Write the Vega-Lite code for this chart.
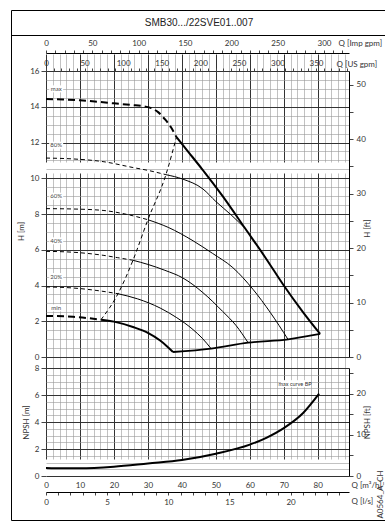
{
  "$schema": "https://vega.github.io/schema/vega-lite/v6.json",
  "padding": {"left": 8, "top": 7, "right": 2, "bottom": 4},
  "width": 375,
  "height": 510,
  "config": {
    "view": {"stroke": "black", "strokeWidth": 1},
    "axis": {"labelFont": "Lato", "labelFontSize": 8, "labelColor": "#333", "titleFont": "Lato", "titleFontSize": 8, "titleFontWeight": "normal", "titleColor": "#333", "domainColor": "black", "tickColor": "#444", "labelFlush": false, "labelOverlap": false, "labelBound": false},
    "text": {"font": "Lato"}
  },
  "datasets": {
    "hq": [
      {"c": "max", "part": "dashed", "q": 0, "h": 14.43}, {"c": "max", "part": "dashed", "q": 5, "h": 14.41}, {"c": "max", "part": "dashed", "q": 10, "h": 14.36}, {"c": "max", "part": "dashed", "q": 15, "h": 14.28}, {"c": "max", "part": "dashed", "q": 20, "h": 14.19}, {"c": "max", "part": "dashed", "q": 25, "h": 14.1}, {"c": "max", "part": "dashed", "q": 29, "h": 14.02}, {"c": "max", "part": "dashed", "q": 31, "h": 13.92}, {"c": "max", "part": "dashed", "q": 33, "h": 13.7}, {"c": "max", "part": "dashed", "q": 35, "h": 13.3}, {"c": "max", "part": "dashed", "q": 36.8, "h": 12.85}, {"c": "max", "part": "dashed", "q": 38.4, "h": 12.3},
      {"c": "max", "part": "solid", "q": 38.4, "h": 12.3}, {"c": "max", "part": "solid", "q": 42, "h": 11.45}, {"c": "max", "part": "solid", "q": 46, "h": 10.5}, {"c": "max", "part": "solid", "q": 52, "h": 9.0}, {"c": "max", "part": "solid", "q": 58.6, "h": 7.2}, {"c": "max", "part": "solid", "q": 64.8, "h": 5.5}, {"c": "max", "part": "solid", "q": 70, "h": 4.0}, {"c": "max", "part": "solid", "q": 75.7, "h": 2.5}, {"c": "max", "part": "solid", "q": 80.7, "h": 1.29},
      {"c": "80%", "part": "dashed", "q": 0, "h": 11.13}, {"c": "80%", "part": "dashed", "q": 8, "h": 11.08}, {"c": "80%", "part": "dashed", "q": 16.8, "h": 10.93}, {"c": "80%", "part": "dashed", "q": 25.6, "h": 10.6}, {"c": "80%", "part": "dashed", "q": 30.5, "h": 10.42}, {"c": "80%", "part": "dashed", "q": 35.3, "h": 10.2},
      {"c": "80%", "part": "solid", "q": 35.3, "h": 10.2}, {"c": "80%", "part": "solid", "q": 40.3, "h": 9.95}, {"c": "80%", "part": "solid", "q": 46.2, "h": 9.4}, {"c": "80%", "part": "solid", "q": 50, "h": 8.7}, {"c": "80%", "part": "solid", "q": 54.5, "h": 7.95}, {"c": "80%", "part": "solid", "q": 58.6, "h": 7.2},
      {"c": "60%", "part": "dashed", "q": 0, "h": 8.3}, {"c": "60%", "part": "dashed", "q": 8, "h": 8.28}, {"c": "60%", "part": "dashed", "q": 16.8, "h": 8.2}, {"c": "60%", "part": "dashed", "q": 24, "h": 7.97}, {"c": "60%", "part": "dashed", "q": 30, "h": 7.68},
      {"c": "60%", "part": "solid", "q": 30, "h": 7.68}, {"c": "60%", "part": "solid", "q": 36, "h": 7.25}, {"c": "60%", "part": "solid", "q": 43.3, "h": 6.5}, {"c": "60%", "part": "solid", "q": 49, "h": 5.8}, {"c": "60%", "part": "solid", "q": 55, "h": 5.0}, {"c": "60%", "part": "solid", "q": 61, "h": 3.77}, {"c": "60%", "part": "solid", "q": 66, "h": 2.5}, {"c": "60%", "part": "solid", "q": 71.3, "h": 0.97},
      {"c": "40%", "part": "dashed", "q": 0, "h": 5.91}, {"c": "40%", "part": "dashed", "q": 8, "h": 5.86}, {"c": "40%", "part": "dashed", "q": 16.8, "h": 5.69}, {"c": "40%", "part": "dashed", "q": 21, "h": 5.56}, {"c": "40%", "part": "dashed", "q": 25.6, "h": 5.41},
      {"c": "40%", "part": "solid", "q": 25.6, "h": 5.41}, {"c": "40%", "part": "solid", "q": 30, "h": 5.18}, {"c": "40%", "part": "solid", "q": 35, "h": 4.85}, {"c": "40%", "part": "solid", "q": 40.3, "h": 4.42}, {"c": "40%", "part": "solid", "q": 46.2, "h": 3.6}, {"c": "40%", "part": "solid", "q": 52, "h": 2.55}, {"c": "40%", "part": "solid", "q": 56, "h": 1.75}, {"c": "40%", "part": "solid", "q": 59.5, "h": 0.8},
      {"c": "20%", "part": "dashed", "q": 0, "h": 3.92}, {"c": "20%", "part": "dashed", "q": 8, "h": 3.86}, {"c": "20%", "part": "dashed", "q": 15, "h": 3.72}, {"c": "20%", "part": "dashed", "q": 21.2, "h": 3.54},
      {"c": "20%", "part": "solid", "q": 21.2, "h": 3.54}, {"c": "20%", "part": "solid", "q": 27, "h": 3.25}, {"c": "20%", "part": "solid", "q": 33.6, "h": 2.74}, {"c": "20%", "part": "solid", "q": 38.5, "h": 2.2}, {"c": "20%", "part": "solid", "q": 43.3, "h": 1.53}, {"c": "20%", "part": "solid", "q": 46, "h": 1.05}, {"c": "20%", "part": "solid", "q": 48.6, "h": 0.47},
      {"c": "min", "part": "dashed", "q": 0, "h": 2.3}, {"c": "min", "part": "dashed", "q": 8, "h": 2.25}, {"c": "min", "part": "dashed", "q": 16.2, "h": 2.09},
      {"c": "min", "part": "solid", "q": 16.2, "h": 2.09}, {"c": "min", "part": "solid", "q": 20, "h": 1.98}, {"c": "min", "part": "solid", "q": 25.6, "h": 1.68}, {"c": "min", "part": "solid", "q": 30, "h": 1.35}, {"c": "min", "part": "solid", "q": 33.6, "h": 0.92}, {"c": "min", "part": "solid", "q": 35.5, "h": 0.62}, {"c": "min", "part": "solid", "q": 37.4, "h": 0.28}
    ],
    "link": [
      {"q": 16.2, "h": 2.09}, {"q": 21.2, "h": 3.54}, {"q": 25.6, "h": 5.41}, {"q": 30, "h": 7.68}, {"q": 35.3, "h": 10.2}, {"q": 38.4, "h": 12.3}
    ],
    "base": [
      {"q": 37.4, "h": 0.28}, {"q": 48.6, "h": 0.47}, {"q": 59.5, "h": 0.8}, {"q": 71.3, "h": 0.99}, {"q": 80.7, "h": 1.29}
    ],
    "labels": [
      {"lab": "max", "q": 3, "h": 15}, {"lab": "80%", "q": 3, "h": 11.85}, {"lab": "60%", "q": 3, "h": 9}, {"lab": "40%", "q": 3, "h": 6.5}, {"lab": "20%", "q": 3, "h": 4.5}, {"lab": "min", "q": 3, "h": 2.75}
    ],
    "npsh": [
      {"q": 0, "n": 0.6}, {"q": 5, "n": 0.57}, {"q": 10, "n": 0.57}, {"q": 20, "n": 0.69}, {"q": 30, "n": 0.93}, {"q": 40, "n": 1.18}, {"q": 50, "n": 1.65}, {"q": 60, "n": 2.32}, {"q": 65, "n": 2.85}, {"q": 70, "n": 3.55}, {"q": 75.7, "n": 4.67}, {"q": 80.4, "n": 6.1}
    ],
    "npshlabel": [{"lab": "max curve BP", "q": 73.3, "n": 6.84}],
    "titlerow": [{"d": 0}]
  },
  "encoding": {
    "x": {"field": "q", "type": "quantitative", "scale": {"domain": [0, 89.2], "range": [35, 338], "nice": false, "zero": false}, "axis": null},
    "y": {"field": "h", "type": "quantitative", "scale": {"domain": [0, 16], "range": [347, 61], "nice": false, "zero": false}, "axis": null}
  },
  "layer": [
    {"data": {"name": "titlerow"}, "mark": {"type": "point", "opacity": 0},
      "encoding": {
        "x": {"field": "d", "type": "quantitative", "scale": {"domain": [0, 1], "range": [0, 375], "nice": false, "zero": false},
          "axis": {"orient": "top", "offset": -25, "domain": true, "domainColor": "black", "domainWidth": 1, "labels": false, "ticks": false, "grid": false,
            "title": "SMB30.../22SVE01..007", "titleFont": "Liberation Sans", "titleFontSize": 10, "titleColor": "#222", "titleY": -13, "titleBaseline": "middle"}},
        "y": {"value": 0}
      }},
    {"data": {"name": "base"}, "mark": {"type": "point", "opacity": 0},
      "encoding": {
        "x": {"field": "q", "type": "quantitative", "scale": {"domain": [0, 89.2], "range": [35, 338], "nice": false, "zero": false},
          "axis": {"orient": "bottom", "offset": -163, "values": [0,2,4,6,8,10,12,14,16,18,20,22,24,26,28,30,32,34,36,38,40,42,44,46,48,50,52,54,56,58,60,62,64,66,68,70,72,74,76,78,80,82,84,86,88],
            "labels": false, "ticks": false, "domain": false, "title": null, "grid": true,
            "gridColor": {"condition": {"test": "datum.value % 10 === 0", "value": "#333"}, "value": "#999"},
            "gridWidth": {"condition": {"test": "datum.value % 10 === 0", "value": 1}, "value": 0.6}}},
        "y": {"field": "h", "type": "quantitative", "scale": {"domain": [0, 16], "range": [347, 61], "nice": false, "zero": false},
          "axis": {"orient": "left", "offset": -35, "values": [0,0.5,1,1.5,2,2.5,3,3.5,4,4.5,5,5.5,6,6.5,7,7.5,8,8.5,9,9.5,10,10.5,11,11.5,12,12.5,13,13.5,14,14.5,15,15.5,16],
            "labelExpr": "datum.value % 2 === 0 ? format(datum.value, 'd') : ''", "domain": false,
            "tickSize": {"condition": {"test": "datum.value % 2 === 0", "value": 5}, "value": 0},
            "labelPadding": 2, "title": "H [m]", "titlePadding": 4, "titleY": 221, "grid": true,
            "gridColor": {"condition": {"test": "datum.value % 2 === 0", "value": "#333"}, "value": "#999"},
            "gridWidth": {"condition": {"test": "datum.value % 2 === 0", "value": 1}, "value": 0.6}}}
      }},
    {"data": {"name": "base"}, "mark": {"type": "point", "opacity": 0},
      "encoding": {"x": {"field": "q", "type": "quantitative", "scale": {"domain": [0, 89.2], "range": [35, 338], "nice": false, "zero": false},
        "axis": {"orient": "top", "offset": -61, "values": [0,2.2712,4.5425,6.8137,9.085,11.3562,13.6275,15.8987,18.17,20.4412,22.7125,24.9837,27.255,29.5262,31.7975,34.0687,36.34,38.6112,40.8824,43.1537,45.4249,47.6962,49.9674,52.2387,54.5099,56.7812,59.0524,61.3237,63.5949,65.8662,68.1374,70.4087,72.6799,74.9512,77.2224,79.4936,81.7649,84.0361,86.3074,88.5786],
          "labelExpr": "round(datum.value / 0.2271247) % 50 === 0 ? format(round(datum.value / 0.2271247), 'd') : ''", "grid": false, "domain": false,
          "tickSize": 3, "labelPadding": 1, "title": "Q [US gpm]", "titleX": 325, "titleY": -7, "titleAlign": "left", "titleBaseline": "middle", "titleAngle": 0}}}},
    {"data": {"name": "base"}, "mark": {"type": "point", "opacity": 0},
      "encoding": {"x": {"field": "q", "type": "quantitative", "scale": {"domain": [0, 89.2], "range": [35, 338], "nice": false, "zero": false},
        "axis": {"orient": "top", "offset": -43, "values": [0,2.7277,5.4553,8.183,10.9106,13.6383,16.3659,19.0936,21.8212,24.5489,27.2765,30.0042,32.7318,35.4595,38.1871,40.9148,43.6424,46.3701,49.0977,51.8254,54.553,57.2807,60.0083,62.736,65.4636,68.1913,70.9189,73.6466,76.3742,79.1019,81.8295,84.5572,87.2848],
          "labelExpr": "round(datum.value / 0.272765) % 50 === 0 ? format(round(datum.value / 0.272765), 'd') : ''", "grid": false, "domain": true, "domainWidth": 1,
          "tickSize": 3, "labelPadding": 3, "title": "Q [Imp gpm]", "titleX": 327, "titleY": -10, "titleAlign": "left", "titleBaseline": "middle", "titleAngle": 0}}}},
    {"data": {"name": "base"}, "mark": {"type": "point", "opacity": 0},
      "encoding": {"y": {"field": "h", "type": "quantitative", "scale": {"domain": [0, 16], "range": [347, 61], "nice": false, "zero": false},
        "axis": {"orient": "right", "offset": -37, "values": [0,1.524,3.048,4.572,6.096,7.62,9.144,10.668,12.192,13.716,15.24],
          "labelExpr": "round(datum.value / 0.3048) % 10 === 0 ? format(round(datum.value / 0.3048), 'd') : ''",
          "grid": false, "domain": true, "domainWidth": 1, "tickSize": 4, "labelPadding": 3,
          "title": "H [ft]", "titleAngle": -90, "titlePadding": 6, "titleY": 218}}}},
    {"data": {"name": "hq"}, "transform": [{"filter": "datum.part === 'dashed' && datum.c !== 'max' && datum.c !== 'min'"}],
      "mark": {"type": "line", "color": "black", "strokeWidth": 1, "strokeDash": [4, 3], "interpolate": "monotone"},
      "encoding": {"detail": {"field": "c"}}},
    {"data": {"name": "hq"}, "transform": [{"filter": "datum.part === 'dashed' && (datum.c === 'max' || datum.c === 'min')"}],
      "mark": {"type": "line", "color": "black", "strokeWidth": 2, "strokeDash": [7, 4], "interpolate": "monotone"},
      "encoding": {"detail": {"field": "c"}}},
    {"data": {"name": "hq"}, "transform": [{"filter": "datum.part === 'solid' && datum.c !== 'max' && datum.c !== 'min'"}],
      "mark": {"type": "line", "color": "black", "strokeWidth": 1, "interpolate": "monotone"},
      "encoding": {"detail": {"field": "c"}}},
    {"data": {"name": "hq"}, "transform": [{"filter": "datum.part === 'solid' && (datum.c === 'max' || datum.c === 'min')"}],
      "mark": {"type": "line", "color": "black", "strokeWidth": 2, "interpolate": "monotone"},
      "encoding": {"detail": {"field": "c"}}},
    {"data": {"name": "link"},
      "mark": {"type": "line", "color": "black", "strokeWidth": 1, "strokeDash": [4, 3], "interpolate": "monotone"},
      "encoding": {}},
    {"data": {"name": "base"},
      "mark": {"type": "line", "color": "black", "strokeWidth": 1.8, "interpolate": "monotone"},
      "encoding": {}},
    {"data": {"name": "labels"},
      "mark": {"type": "point", "shape": "M-1,-0.5H1V0.5H-1Z", "size": 196, "filled": true, "color": "white", "opacity": 1, "strokeWidth": 0},
      "encoding": {}},
    {"data": {"name": "labels"},
      "mark": {"type": "text", "fontSize": 6, "color": "#444", "align": "center", "baseline": "middle"},
      "encoding": {"text": {"field": "lab"}}},
    {"data": {"name": "npsh"}, "mark": {"type": "point", "opacity": 0},
      "encoding": {
        "x": {"field": "q", "type": "quantitative", "scale": {"domain": [0, 89.2], "range": [35, 338], "nice": false, "zero": false},
          "axis": {"orient": "bottom", "offset": -44, "values": [0,2,4,6,8,10,12,14,16,18,20,22,24,26,28,30,32,34,36,38,40,42,44,46,48,50,52,54,56,58,60,62,64,66,68,70,72,74,76,78,80,82,84,86,88],
            "labelExpr": "datum.value % 10 === 0 ? datum.label : ''", "ticks": false, "domain": false, "labelPadding": 5, "grid": true,
            "gridColor": {"condition": {"test": "datum.value % 10 === 0", "value": "#333"}, "value": "#999"},
            "gridWidth": {"condition": {"test": "datum.value % 10 === 0", "value": 1}, "value": 0.6},
            "title": "Q [m³/h]", "titleX": 340, "titleY": 9, "titleAlign": "left", "titleBaseline": "middle", "titleAngle": 0}},
        "y": {"field": "n", "type": "quantitative", "scale": {"domain": [0, 8], "range": [466, 358], "nice": false, "zero": false},
          "axis": {"orient": "left", "offset": -35, "values": [0,0.5,1,1.5,2,2.5,3,3.5,4,4.5,5,5.5,6,6.5,7,7.5,8],
            "labelExpr": "datum.value % 2 === 0 ? format(datum.value, 'd') : ''", "domain": false,
            "tickSize": {"condition": {"test": "datum.value % 2 === 0", "value": 5}, "value": 0},
            "labelPadding": 2, "title": "NPSH [m]", "titlePadding": 4, "grid": true,
            "gridColor": {"condition": {"test": "datum.value % 2 === 0", "value": "#333"}, "value": "#999"},
            "gridWidth": {"condition": {"test": "datum.value % 2 === 0", "value": 1}, "value": 0.6}}}
      }},
    {"data": {"name": "npsh"}, "mark": {"type": "point", "opacity": 0},
      "encoding": {
        "x": {"field": "q", "type": "quantitative", "scale": {"domain": [0, 89.2], "range": [35, 338], "nice": false, "zero": false},
          "axis": {"orient": "bottom", "offset": -28, "values": [0,3.6,7.2,10.8,14.4,18,21.6,25.2,28.8,32.4,36,39.6,43.2,46.8,50.4,54,57.6,61.2,64.8,68.4,72,75.6,79.2,82.8,86.4],
            "labelExpr": "round(datum.value / 3.6) % 5 === 0 ? format(round(datum.value / 3.6), 'd') : ''", "grid": false, "domain": true, "domainWidth": 1,
            "tickSize": 3, "labelPadding": 3, "title": "Q [l/s]", "titleX": 340, "titleY": 9, "titleAlign": "left", "titleBaseline": "middle", "titleAngle": 0}},
        "y": {"field": "n", "type": "quantitative", "scale": {"domain": [0, 8], "range": [466, 358], "nice": false, "zero": false}, "axis": null}
      }},
    {"data": {"name": "npsh"}, "mark": {"type": "point", "opacity": 0},
      "encoding": {"y": {"field": "n", "type": "quantitative", "scale": {"domain": [0, 8], "range": [466, 358], "nice": false, "zero": false},
        "axis": {"orient": "right", "offset": -37, "values": [0,1.524,3.048,4.572,6.096,7.62],
          "labelExpr": "round(datum.value / 0.3048) % 10 === 0 ? format(round(datum.value / 0.3048), 'd') : ''",
          "grid": false, "domain": true, "domainWidth": 1, "tickSize": 4, "labelPadding": 3,
          "title": "NPSH [ft]", "titleAngle": -90, "titlePadding": 6}}}},
    {"data": {"name": "npsh"}, "mark": {"type": "point", "opacity": 0},
      "encoding": {"y": {"field": "n", "type": "quantitative", "scale": {"domain": [0, 8], "range": [466, 358], "nice": false, "zero": false},
        "axis": {"orient": "right", "offset": -37, "labels": false, "ticks": false, "domain": false, "grid": false,
          "title": "A0564_A_CH", "titleAngle": -90, "titleX": 31, "titleY": 484, "titleAlign": "center", "titleBaseline": "middle"}}}},
    {"data": {"name": "npsh"},
      "mark": {"type": "line", "color": "black", "strokeWidth": 2, "interpolate": "monotone"},
      "encoding": {"y": {"field": "n", "type": "quantitative", "scale": {"domain": [0, 8], "range": [466, 358], "nice": false, "zero": false}, "axis": null}}},
    {"data": {"name": "npshlabel"},
      "mark": {"type": "point", "shape": "M-1,-0.25H1V0.25H-1Z", "size": 784, "filled": true, "color": "white", "opacity": 1, "strokeWidth": 0},
      "encoding": {"y": {"field": "n", "type": "quantitative", "scale": {"domain": [0, 8], "range": [466, 358], "nice": false, "zero": false}, "axis": null}}},
    {"data": {"name": "npshlabel"},
      "mark": {"type": "text", "fontSize": 5.5, "color": "#333", "align": "center", "baseline": "middle"},
      "encoding": {"text": {"field": "lab"}, "y": {"field": "n", "type": "quantitative", "scale": {"domain": [0, 8], "range": [466, 358], "nice": false, "zero": false}, "axis": null}}}
  ],
  "resolve": {"scale": {"x": "independent", "y": "independent"}, "axis": {"x": "independent", "y": "independent"}}
}
